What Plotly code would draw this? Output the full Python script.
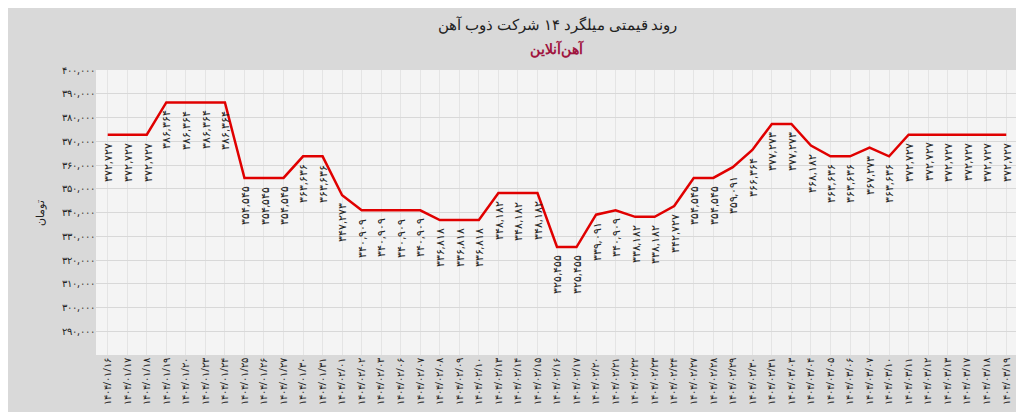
import plotly.graph_objects as go

def fa(s):
    return s.translate(str.maketrans("0123456789", "۰۱۲۳۴۵۶۷۸۹"))

dates = ["1404/01/16","1404/01/17","1404/01/18","1404/01/19","1404/01/20","1404/01/23","1404/01/24","1404/01/25","1404/01/26","1404/01/27","1404/01/30","1404/01/31",
         "1404/02/01","1404/02/02","1404/02/03","1404/02/06","1404/02/07","1404/02/08","1404/02/09","1404/02/10","1404/02/13","1404/02/14","1404/02/15","1404/02/16","1404/02/17","1404/02/20","1404/02/21","1404/02/22","1404/02/23","1404/02/24","1404/02/27","1404/02/28","1404/02/29","1404/02/30","1404/02/31",
         "1404/03/03","1404/03/04","1404/03/05","1404/03/06","1404/03/07","1404/03/10","1404/03/11","1404/03/12","1404/03/13","1404/03/17","1404/03/18","1404/03/19"]
prices = [372727,372727,372727,386364,386364,386364,386364,354545,354545,354545,363636,363636,
          347273,340909,340909,340909,340909,336818,336818,336818,348182,348182,348182,325455,325455,339091,340909,338182,338182,342727,354545,354545,359091,366364,
          377273,377273,368182,363636,363636,367273,363636,372727,372727,372727,372727,372727,372727]
ytick_vals = list(range(290000, 400001, 10000))

xl = [fa(d) for d in dates]
fig = go.Figure(go.Scatter(x=xl, y=prices, mode="lines", line=dict(color="#e00000", width=2.5)))
for x, v in zip(xl, prices):
    fig.add_annotation(x=x, y=v, text=fa(f"{v:,}"), showarrow=False, textangle=-90,
                       yanchor="top", yshift=-6, font=dict(size=11, color="#222", family="Noto Sans"))
fig.add_annotation(xref="paper", yref="paper", x=0.5, y=1.0, yshift=34, yanchor="bottom", showarrow=False,
                   text="روند قیمتی میلگرد ۱۴ شرکت ذوب آهن", font=dict(size=15, color="#222"))
fig.add_annotation(xref="paper", yref="paper", x=0.5, y=1.0, yshift=10, yanchor="bottom", showarrow=False,
                   text="<b>آهن‌آنلاین</b>", font=dict(size=14, color="#a0153e"))
fig.update_layout(
    width=1024, height=412, paper_bgcolor="#d9d9d9", plot_bgcolor="#f4f4f4",
    margin=dict(l=88, r=14, t=62, b=65), showlegend=False,
    font=dict(family="Noto Sans", color="#222"),
    xaxis=dict(type="category", tickangle=-90, tickfont=dict(size=10), showgrid=True, gridcolor="#e4e4e4", range=[-0.6, 46.6]),
    yaxis=dict(range=[280000, 400000], tickvals=ytick_vals, ticktext=[fa(f"{v:,}") for v in ytick_vals],
               tickfont=dict(size=10), gridcolor="#d8d8d8", title=dict(text="تومان", font=dict(size=11))),
)
fig.write_html("out.html")
